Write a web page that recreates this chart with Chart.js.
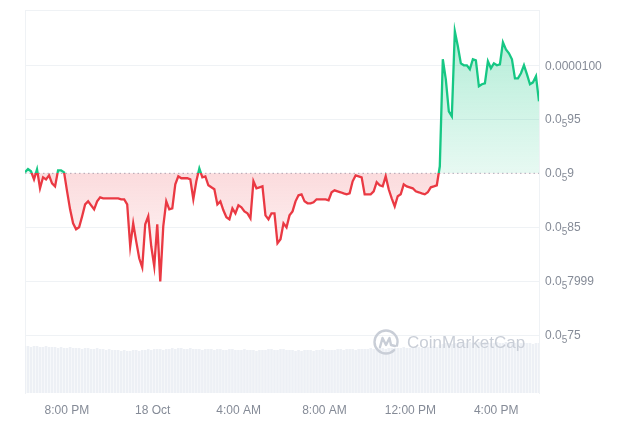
<!DOCTYPE html>
<html>
<head>
<meta charset="utf-8">
<script src="https://cdn.jsdelivr.net/npm/chart.js@4/dist/chart.umd.min.js"></script>
<style>
  body { margin: 0; background: #fff; }
  #wrap { width: 640px; height: 427px; }
</style>
</head>
<body>
<div id="wrap"><canvas id="priceChart" width="640" height="427"></canvas></div>
<script>
// Giá tính theo đơn vị 0.000001 (mỗi điểm cách nhau ~8.4 phút)
const pricesMicro = [
  9.009, 9.040, 9.019, 8.944, 9.037, 8.861, 8.963, 8.944, 8.981, 8.907,
  8.879, 9.028, 9.028, 9.009, 8.833, 8.666, 8.536, 8.481, 8.499, 8.601,
  8.712, 8.740, 8.703, 8.666, 8.740, 8.777, 8.768, 8.768, 8.768, 8.768,
  8.768, 8.768, 8.759, 8.759, 8.712, 8.323, 8.536, 8.369, 8.212, 8.128,
  8.527, 8.601, 8.323, 8.137, 8.527, 7.998, 8.508, 8.740, 8.666, 8.675,
  8.898, 8.972, 8.954, 8.954, 8.954, 8.944, 8.759, 8.926, 9.046, 8.963,
  8.972, 8.889, 8.870, 8.852, 8.712, 8.740, 8.657, 8.592, 8.573, 8.675,
  8.629, 8.703, 8.685, 8.647, 8.629, 8.583, 8.926, 8.861, 8.870, 8.879,
  8.610, 8.573, 8.629, 8.629, 8.351, 8.388, 8.536, 8.499, 8.610, 8.647,
  8.740, 8.796, 8.805, 8.740, 8.722, 8.722, 8.731, 8.759, 8.759, 8.759,
  8.759, 8.750, 8.824, 8.842, 8.833, 8.824, 8.814, 8.805, 8.814, 8.926,
  8.981, 8.972, 8.963, 8.805, 8.805, 8.805, 8.833, 8.917, 8.889, 8.879,
  8.972, 8.852, 8.768, 8.694, 8.787, 8.805, 8.898, 8.879, 8.870, 8.861,
  8.833, 8.824, 8.814, 8.805, 8.824, 8.870, 8.879, 8.889, 9.065, 10.058,
  9.872, 9.575, 9.529, 10.317, 10.178, 10.020, 10.002, 10.002, 9.965, 10.058,
  10.048, 9.807, 9.826, 9.835, 10.039, 9.974, 10.020, 10.002, 10.011, 10.215,
  10.150, 10.113, 10.058, 9.881, 9.881, 9.928, 10.002, 9.918, 9.826, 9.844,
  9.900, 9.668
];

// Khối lượng giao dịch (đơn vị tương đối)
const volumes = [
  4.7, 4.7, 4.6, 4.7, 4.7, 4.6, 4.6, 4.7, 4.6, 4.6, 4.6, 4.5, 4.6, 4.5, 4.5, 4.6, 4.5, 4.5, 4.5, 4.4,
  4.5, 4.5, 4.4, 4.4, 4.5, 4.4,
  4.4, 4.3, 4.4, 4.3, 4.3, 4.3, 4.2, 4.3, 4.2, 4.2, 4.3, 4.3, 4.2, 4.3, 4.3, 4.4, 4.3, 4.4, 4.4, 4.4,
  4.3, 4.4, 4.4, 4.5, 4.4, 4.5, 4.5, 4.4, 4.4, 4.5, 4.4, 4.4, 4.4, 4.3, 4.4,
  4.4, 4.4, 4.3, 4.4, 4.4, 4.3, 4.3, 4.4, 4.4, 4.3, 4.3, 4.3, 4.4, 4.3, 4.3, 4.3, 4.2, 4.3, 4.3, 4.3,
  4.4, 4.4, 4.3, 4.3, 4.4, 4.4, 4.3, 4.3, 4.3, 4.2, 4.3, 4.2, 4.3, 4.3, 4.3, 4.2, 4.3, 4.3, 4.4, 4.3,
  4.3, 4.3, 4.3, 4.4, 4.4, 4.3, 4.4, 4.4, 4.4, 4.3, 4.4, 4.4, 4.4, 4.4, 4.5, 4.4, 4.4, 4.5, 4.5, 4.4,
  4.5, 4.5, 4.5, 4.5, 4.5, 4.6, 4.5, 4.5, 4.6, 4.6, 4.6, 4.5, 4.6, 4.6, 4.6, 4.7, 4.6,
  4.8, 4.9, 5.0, 5.0, 4.9, 5.0, 5.0, 5.1, 5.0, 5.0, 5.1, 5.0, 5.0, 5.1, 5.0, 5.1, 5.0, 5.0, 5.0, 5.1,
  5.0, 5.0, 5.1, 5.0, 5.0, 5.0, 5.1, 5.0, 5.0, 5.0, 5.0, 4.9, 5.0, 5.0
];

const basePrice = 9;          // giá mở đầu kỳ (đường chấm)
const startHour = 18.05;      // 17 Oct, ~6:03 PM
const stepHours = 0.14;
const xTickHours = [20, 24, 28, 32, 36, 40];
const xTickLabels = ['8:00 PM', '18 Oct', '4:00 AM', '8:00 AM', '12:00 PM', '4:00 PM'];
const yTickValues = [7.5, 8, 8.5, 9, 9.5, 10, 10.515];
// nhãn dạng [phần đầu, số 0 thu gọn (chỉ số dưới), phần sau]
const yTickLabels = [
  ['0.0', '5', '75'],
  ['0.0', '5', '7999'],
  ['0.0', '5', '85'],
  ['0.0', '5', '9'],
  ['0.0', '5', '95'],
  ['0.0000100', '', ''],
  ['', '', '']
];

const GREEN = '#16c784';
const RED = '#ea3943';
const GRID = '#eff2f5';
const TICK = '#858b97';
const FONT = '"Liberation Sans", Arial, sans-serif';

const times = pricesMicro.map((p, i) => startHour + i * stepHours);
const pricePoints = pricesMicro.map((p, i) => ({ x: times[i], y: p }));
const volumePoints = volumes.map((v, i) => ({ x: times[i], y: v }));
const tStart = times[0];
const tEnd = times[times.length - 1];

// Màu đường: xanh trên giá gốc, đỏ dưới giá gốc
function lineColor(ctx) {
    const chart = ctx.chart;
    const area = chart.chartArea;
    if (!area) return GREEN;
    const yBase = chart.scales.y.getPixelForValue(basePrice);
    const f = (yBase - area.top) / (area.bottom - area.top);
    const g = chart.ctx.createLinearGradient(0, area.top, 0, area.bottom);
    g.addColorStop(0, GREEN);
    g.addColorStop(f, GREEN);
    g.addColorStop(f, RED);
    g.addColorStop(1, RED);
    return g;
}

// Màu vùng tô
function areaColor(ctx) {
    const chart = ctx.chart;
    const area = chart.chartArea;
    if (!area) return 'rgba(0,0,0,0)';
    const h = area.bottom - area.top;
    const f = (chart.scales.y.getPixelForValue(basePrice) - area.top) / h;
    const fEnd = (chart.scales.y.getPixelForValue(7.9) - area.top) / h;
    const g = chart.ctx.createLinearGradient(0, area.top, 0, area.bottom);
    g.addColorStop(0, 'rgba(22,199,132,0.36)');
    g.addColorStop(f, 'rgba(22,199,132,0.10)');
    g.addColorStop(f, 'rgba(234,57,67,0.18)');
    g.addColorStop(fEnd, 'rgba(234,57,67,0.01)');
    g.addColorStop(1, 'rgba(234,57,67,0)');
    return g;
}

// Vẽ nhãn trục giá có chỉ số dưới (số lượng số 0)
const subscriptTicks = {
    id: 'subscriptTicks',
    afterDraw(chart) {
        const c = chart.ctx;
        const scale = chart.scales.y;
        const x0 = chart.chartArea.right + 6;
        c.save();
        c.fillStyle = TICK;
        c.textBaseline = 'alphabetic';
        yTickValues.forEach((v, i) => {
            const [head, sub, tail] = yTickLabels[i];
            if (!head) return;
            const y = scale.getPixelForValue(v) + 4;
            let x = x0;
            c.font = '12px ' + FONT;
            c.fillText(head, x, y);
            x += c.measureText(head).width;
            if (sub) {
                c.font = '10px ' + FONT;
                c.fillText(sub, x, y + 4);
                x += c.measureText(sub).width;
            }
            c.font = '12px ' + FONT;
            c.fillText(tail, x, y);
        });
        c.restore();
    }
};

// Logo mờ CoinMarketCap
const watermark = {
    id: 'watermark',
    afterDatasetsDraw(chart) {
        const c = chart.ctx;
        const cx = chart.chartArea.right - 153;
        const cy = chart.chartArea.bottom - 51;
        c.save();
        c.strokeStyle = '#c9ced7';
        c.fillStyle = '#c9ced7';
        c.lineWidth = 2.4;
        c.lineCap = 'round';
        c.lineJoin = 'round';
        c.beginPath();
        c.arc(cx, cy, 11.5, 0.25 * Math.PI, 2.1 * Math.PI);
        c.stroke();
        c.beginPath();
        c.moveTo(cx - 6, cy + 5);
        c.lineTo(cx - 3.5, cy - 4);
        c.lineTo(cx, cy + 3);
        c.lineTo(cx + 3.5, cy - 4);
        c.lineTo(cx + 5, cy + 3);
        c.lineTo(cx + 9, cy + 4);
        c.stroke();
        c.font = '17px ' + FONT;
        c.textBaseline = 'middle';
        c.fillText('CoinMarketCap', cx + 21, cy + 1);
        c.restore();
    }
};

const ctx = document.getElementById('priceChart').getContext('2d');
new Chart(ctx, {
    type: 'line',
    data: {
        datasets: [
            {
                label: 'Price',
                data: pricePoints,
                borderColor: lineColor,
                backgroundColor: areaColor,
                borderWidth: 2.3,
                pointRadius: 0,
                tension: 0,
                fill: { value: basePrice },
                order: 0
            },
            {
                label: 'Base',
                data: [{ x: tStart, y: basePrice }, { x: tEnd, y: basePrice }],
                borderColor: '#a9b0bf',
                borderWidth: 1,
                borderDash: [1.5, 3],
                pointRadius: 0,
                fill: false,
                order: 1
            },
            {
                type: 'bar',
                label: 'Volume',
                data: volumePoints,
                yAxisID: 'yVol',
                backgroundColor: '#edf0f5',
                categoryPercentage: 1,
                barPercentage: 0.86,
                order: 2
            }
        ]
    },
    options: {
        responsive: false,
        animation: false,
        layout: { padding: { left: 25, top: 10, right: 0, bottom: 0 } },
        plugins: { legend: { display: false }, tooltip: { enabled: false } },
        scales: {
            x: {
                type: 'linear',
                min: tStart,
                max: tEnd,
                offset: false,
                grid: { display: false, drawTicks: false },
                border: { display: false },
                afterBuildTicks: s => { s.ticks = xTickHours.map(v => ({ value: v })); },
                ticks: {
                    autoSkip: false,
                    maxRotation: 0,
                    padding: 10,
                    color: TICK,
                    font: { family: FONT, size: 12 },
                    callback: (v, i) => xTickLabels[i]
                },
                afterFit: s => { s.height = 34; s.paddingLeft = 0; s.paddingRight = 0; }
            },
            y: {
                position: 'right',
                min: 6.962,
                max: 10.515,
                afterBuildTicks: s => { s.ticks = yTickValues.map(v => ({ value: v })); },
                ticks: { display: false },
                grid: {
                    drawTicks: false,
                    color: c => (c.tick && c.tick.value === basePrice) ? 'rgba(0,0,0,0)' : GRID
                },
                border: { display: true, color: GRID },
                afterFit: s => { s.width = 101; s.paddingTop = 0; s.paddingBottom = 0; }
            },
            yLeft: {
                position: 'left',
                grid: { display: false, drawTicks: false },
                ticks: { display: false },
                border: { display: true, color: GRID },
                afterFit: s => { s.width = 0; }
            },
            yVol: {
                display: false,
                min: 0,
                max: 38.3
            }
        }
    },
    plugins: [watermark, subscriptTicks]
});
</script>
</body>
</html>
